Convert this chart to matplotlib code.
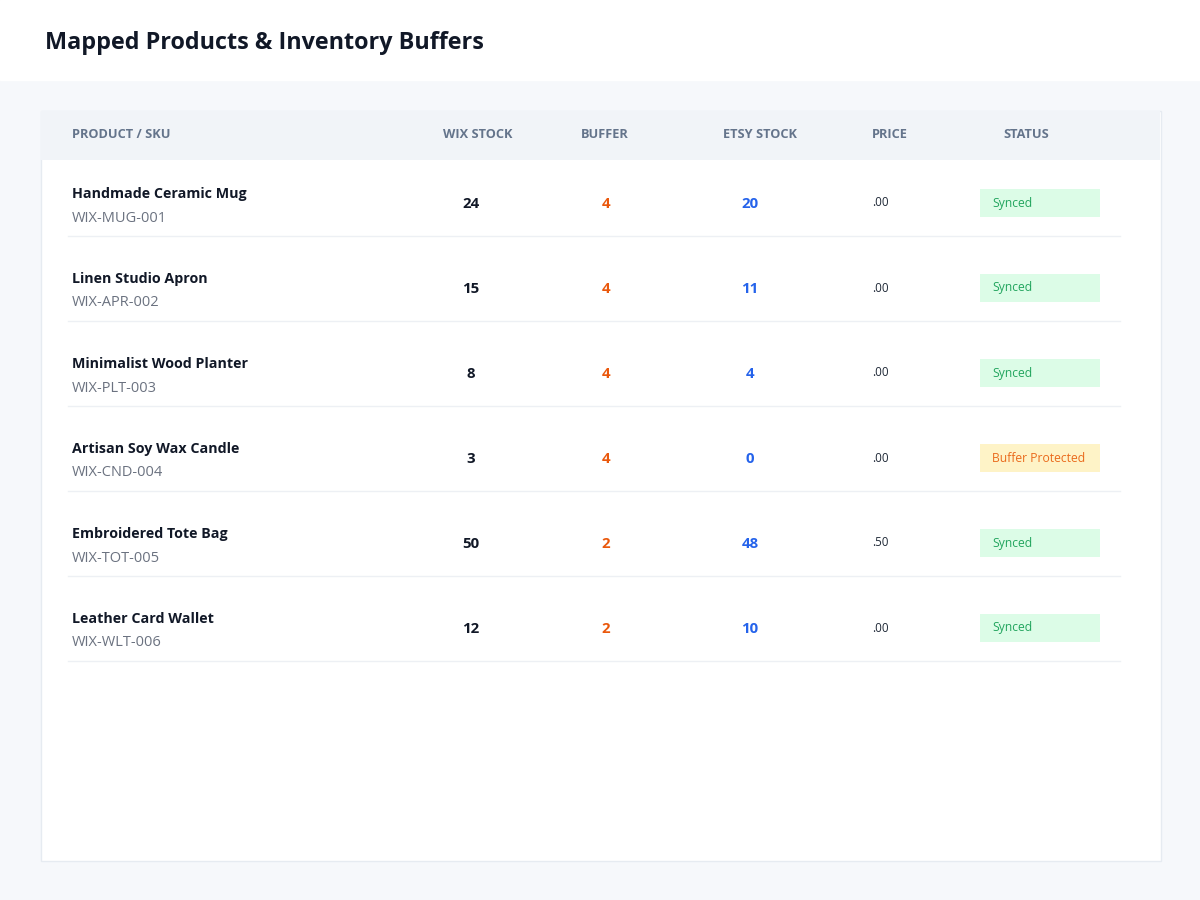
import matplotlib.pyplot as plt
from matplotlib.patches import Rectangle

# table data
products = ['Handmade Ceramic Mug', 'Linen Studio Apron', 'Minimalist Wood Planter',
            'Artisan Soy Wax Candle', 'Embroidered Tote Bag', 'Leather Card Wallet']
skus = ['WIX-MUG-001', 'WIX-APR-002', 'WIX-PLT-003', 'WIX-CND-004', 'WIX-TOT-005', 'WIX-WLT-006']
wix_stock = [24, 15, 8, 3, 50, 12]
buffer = [4, 4, 4, 4, 2, 2]
etsy_stock = [20, 11, 4, 0, 48, 10]
prices = ['.00', '.00', '.00', '.00', '.50', '.00']
status = ['Synced', 'Synced', 'Synced', 'Buffer Protected', 'Synced', 'Synced']
headers = ['PRODUCT / SKU', 'WIX STOCK', 'BUFFER', 'ETSY STOCK', 'PRICE', 'STATUS']

plt.rcParams['font.family'] = ['Open Sans', 'DejaVu Sans']

fig = plt.figure(figsize=(12, 9), dpi=100)
fig.patch.set_facecolor('#f6f8fb')
ax = fig.add_axes([0, 0, 1, 1])
ax.set_xlim(0, 1200)
ax.set_ylim(900, 0)
ax.axis('off')

# top header band
ax.add_patch(Rectangle((0, 0), 1200, 80, color='white', zorder=1))
ax.text(45, 43, 'Mapped Products & Inventory Buffers', fontsize=16.8, fontweight='bold',
        color='#111827', va='center', ha='left', zorder=2)

# card
ax.add_patch(Rectangle((40.5, 110.5), 1120, 750, facecolor='white', edgecolor='#e6ebf1',
                       lw=1, zorder=1))
ax.add_patch(Rectangle((41, 111), 1119, 49, facecolor='#f1f4f8', edgecolor='none', zorder=2))

# header labels
hdr_x = [72, 478, 605, 760, 890, 1026]
hdr_ha = ['left', 'center', 'center', 'center', 'center', 'center']
for h, x, ha in zip(headers, hdr_x, hdr_ha):
    ax.text(x, 135, h, fontsize=9.2, fontweight='bold', color='#64748b',
            ha=ha, va='center', zorder=3)

# rows
row_h = 85
for i in range(len(products)):
    y0 = 160 + i * row_h
    ax.text(72, y0 + 34, products[i], fontsize=10.3, fontweight='bold', color='#111827',
            ha='left', va='center', zorder=3)
    ax.text(72, y0 + 58, skus[i], fontsize=10.5, color='#6b7280',
            ha='left', va='center', zorder=3)
    yc = y0 + 44
    ax.text(471, yc, str(wix_stock[i]), fontsize=10.8, fontweight='bold', color='#111827',
            ha='center', va='center', zorder=3)
    ax.text(606, yc, str(buffer[i]), fontsize=10.8, fontweight='bold', color='#ea580c',
            ha='center', va='center', zorder=3)
    ax.text(750, yc, str(etsy_stock[i]), fontsize=10.8, fontweight='bold', color='#2563eb',
            ha='center', va='center', zorder=3)
    ax.text(872, yc - 1, prices[i], fontsize=8.4, color='#1f2937',
            ha='left', va='center', zorder=3)
    if status[i] == 'Synced':
        bg, fg = '#dcfce7', '#22a55e'
    else:
        bg, fg = '#fef3c7', '#ea6a1c'
    ax.add_patch(Rectangle((980, y0 + 29), 120, 28, facecolor=bg, edgecolor='none', zorder=2))
    ax.text(992, y0 + 43, status[i], fontsize=8.7, color=fg,
            ha='left', va='center', zorder=3)
    ax.plot([68, 1120], [y0 + 75.5, y0 + 75.5], color='#edf0f4', lw=1, zorder=2)

fig.savefig('out.png', dpi=100, facecolor=fig.get_facecolor())
